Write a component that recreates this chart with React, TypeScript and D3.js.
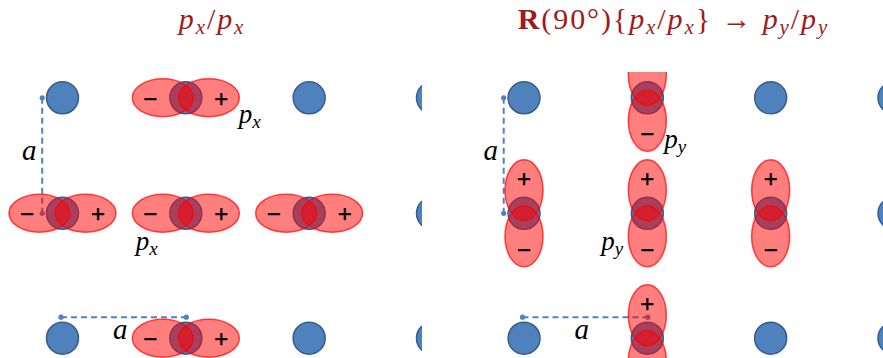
import React from "react";
import * as d3 from "d3";

// lattice columns / rows (lattice units)
const columns = [0, 1, 2, 3];
const rows = [0, 1, 2];
// sites [col,row] that carry a p orbital
const orbitalSites: [number, number][] = [
  [1, 0],
  [0, 1],
  [1, 1],
  [2, 1],
  [1, 2],
];
const panelKeys = ["px", "py"];
const lobeSigns = ["−", "+"];
const orbitalLabels = ["x", "y"];

const W = 883;
const H = 358;
const PANEL_W = 422;
const PANEL_OFFSET = 461.5;
const CLIP_TOP = 72;

const ATOM_R = 16;
const LOBE_OFF = 23;
const LOBE_LONG = 30.5;
const LOBE_SHORT = 19;

const TITLE_COLOR = "#a11a1a";
const BLUE = "#4f81bd";
const BLUE_DARK = "#385d8a";
const SERIF = "'Liberation Serif', 'DejaVu Serif', serif";
const SANS = "'Liberation Sans', 'DejaVu Sans', sans-serif";

const xScale = d3.scaleLinear().domain([0, 3]).range([62.5, 432.5]);
const yScale = d3.scaleLinear().domain([0, 1, 2]).range([97.8, 213.3, 338.2]);

function Panel({ index }: { index: number }) {
  const ox = index * PANEL_OFFSET;
  const vertical = index === 1;
  const px = (c: number) => ox + xScale(c);
  const sites = d3.cross(columns, rows);
  const clipId = `clip-${panelKeys[index]}`;
  const sub = orbitalLabels[index];

  const lobes = orbitalSites.flatMap(([c, r]) =>
    [-1, 1].map((s) => ({
      cx: px(c) + (vertical ? 0 : s * LOBE_OFF),
      cy: yScale(r) + (vertical ? -s * LOBE_OFF : 0),
      rx: vertical ? LOBE_SHORT : LOBE_LONG,
      ry: vertical ? LOBE_LONG : LOBE_SHORT,
      key: `${c}-${r}-${s}`,
    }))
  );

  const signs = orbitalSites
    .flatMap(([c, r]) =>
      [-1, 1].map((s) => ({
        x: px(c) + (vertical ? 0 : s * 35.5),
        y: yScale(r) + (vertical ? (s < 0 ? 36 : -35) : 0.5),
        t: lobeSigns[s < 0 ? 0 : 1],
        key: `${c}-${r}-${s}`,
      }))
    )
    .filter((s) => s.y > CLIP_TOP + 6 && s.y < H - 8);

  // dashed lattice constant markers
  const vx = px(0) - 20.3;
  const vy0 = yScale(0);
  const vy1 = yScale(1);
  const hy = yScale(2) - 21;
  const hx0 = px(0) - 1.5;
  const hx1 = px(1) + 0.5;

  // orbital labels
  const lab1 = vertical
    ? { x: px(1) + 17, y: yScale(0) + 50 }
    : { x: px(1) + 53, y: yScale(0) + 25.5 };
  const lab2 = vertical
    ? { x: px(1) - 46, y: yScale(1) + 36.5 }
    : { x: px(1) - 50, y: yScale(1) + 37 };

  return (
    <g>
      <defs>
        <clipPath id={clipId}>
          <rect x={ox} y={CLIP_TOP} width={PANEL_W} height={H - CLIP_TOP} />
        </clipPath>
      </defs>
      <g clipPath={`url(#${clipId})`}>
        {sites.map(([c, r]) => (
          <circle
            key={`a-${c}-${r}`}
            cx={px(c)}
            cy={yScale(r)}
            r={ATOM_R}
            fill={BLUE}
            stroke={BLUE_DARK}
            strokeWidth={1.5}
          />
        ))}
        {/* vertical a */}
        <line x1={vx} x2={vx} y1={vy0} y2={vy1} stroke={BLUE} strokeWidth={2} strokeDasharray="6,4" />
        <circle cx={vx} cy={vy0} r={2.6} fill={BLUE} />
        <circle cx={vx} cy={vy1} r={2.6} fill={BLUE} />
        {/* horizontal a */}
        <line x1={hx0} x2={hx1} y1={hy} y2={hy} stroke={BLUE} strokeWidth={2} strokeDasharray="6,4" />
        <circle cx={hx0} cy={hy} r={2.6} fill={BLUE} />
        <circle cx={hx1} cy={hy} r={2.6} fill={BLUE} />
        {lobes.map((l) => (
          <ellipse
            key={l.key}
            cx={l.cx}
            cy={l.cy}
            rx={l.rx}
            ry={l.ry}
            fill="rgba(255,0,0,0.5)"
            stroke="rgba(255,0,0,0.7)"
            strokeWidth={1.5}
          />
        ))}
      </g>
      {signs.map((s) => (
        <text
          key={s.key}
          x={s.x}
          y={s.y}
          textAnchor="middle"
          dominantBaseline="central"
          fontFamily={SANS}
          fontSize={24}
          stroke="#000"
          strokeWidth={0.4}
          fill="#000"
        >
          {s.t}
        </text>
      ))}
      {/* a labels */}
      <text x={px(0) - 40.5} y={yScale(0) + 62.5} fontFamily={SERIF} fontStyle="italic" fontSize={29} fill="#000">
        a
      </text>
      <text x={px(0) + 50.5} y={yScale(2) + 0.5} fontFamily={SERIF} fontStyle="italic" fontSize={29} fill="#000">
        a
      </text>
      {[lab1, lab2].map((l, i) => (
        <text key={i} x={l.x} y={l.y} fontFamily={SERIF} fontStyle="italic" fontSize={27} fill="#000">
          p
          <tspan fontSize={19} dy={5}>
            {sub}
          </tspan>
        </text>
      ))}
    </g>
  );
}

export default function App() {
  const cx0 = PANEL_W / 2 + 1;
  const cx1 = PANEL_OFFSET + PANEL_W / 2 + 1;
  const ls = 1.9;
  return (
    <svg width={W} height={H} style={{ position: "absolute", left: 0, top: 0, background: "#fff" }}>
      <rect width={W} height={H} fill="#fff" />
      <Panel index={0} />
      <Panel index={1} />
      <text x={cx0} y={29} textAnchor="middle" fontFamily={SERIF} fontSize={30} letterSpacing={ls} fill={TITLE_COLOR}>
        <tspan fontStyle="italic">p</tspan>
        <tspan fontStyle="italic" fontSize={21} dy={5}>x</tspan>
        <tspan dy={-5}>/</tspan>
        <tspan fontStyle="italic">p</tspan>
        <tspan fontStyle="italic" fontSize={21} dy={5}>x</tspan>
      </text>
      <text x={cx1} y={29} textAnchor="middle" fontFamily={SERIF} fontSize={30} letterSpacing={ls} fill={TITLE_COLOR}>
        <tspan fontWeight="bold">R</tspan>
        <tspan>(90°){"{"}</tspan>
        <tspan fontStyle="italic">p</tspan>
        <tspan fontStyle="italic" fontSize={21} dy={5}>x</tspan>
        <tspan dy={-5}>/</tspan>
        <tspan fontStyle="italic">p</tspan>
        <tspan fontStyle="italic" fontSize={21} dy={5}>x</tspan>
        <tspan dy={-5}>{"} → "}</tspan>
        <tspan fontStyle="italic">p</tspan>
        <tspan fontStyle="italic" fontSize={21} dy={5}>y</tspan>
        <tspan dy={-5}>/</tspan>
        <tspan fontStyle="italic">p</tspan>
        <tspan fontStyle="italic" fontSize={21} dy={5}>y</tspan>
      </text>
    </svg>
  );
}
